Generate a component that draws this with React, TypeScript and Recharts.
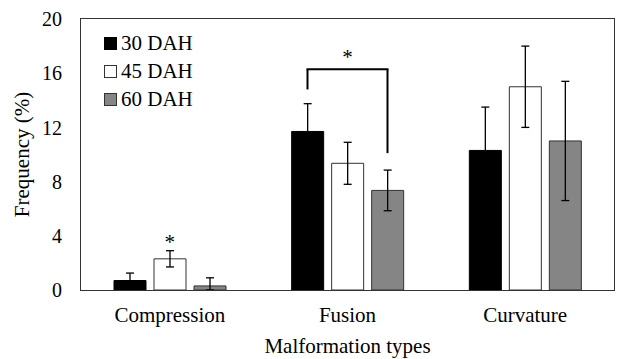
import React from "react";
import {
  BarChart,
  Bar,
  XAxis,
  YAxis,
  ErrorBar,
  Legend,
  ReferenceLine,
  ReferenceDot,
} from "recharts";

const categories = ["Compression", "Fusion", "Curvature"];
const seriesNames = ["30 DAH", "45 DAH", "60 DAH"];
const mean30 = [0.7, 11.7, 10.3];
const err30 = [0.55, 2.05, 3.2];
const mean45 = [2.3, 9.35, 15.0];
const err45 = [0.6, 1.55, 3.0];
const mean60 = [0.3, 7.35, 11.0];
const err60 = [[0.3, 0.6], 1.5, 4.4];
const yTicks = [0, 4, 8, 12, 16, 20];
const yDomain = [0, 20];

// significance marks
const starOver = [
  { category: "Compression", y: 3.6 },
  { category: "Fusion", y: 17.2 },
];
const bracket = { category: "Fusion", top: 16.3, leftEnd: 14.8, rightEnd: 10.1 };

const data = categories.map((c, i) => ({
  name: c,
  d30: mean30[i],
  e30: err30[i],
  d45: mean45[i],
  e45: err45[i],
  d60: mean60[i],
  e60: err60[i],
}));

const fills = ["#000000", "#ffffff", "#858585"];
const strokes = ["#000000", "#333333", "#333333"];

const W = 620;
const H = 359;
const margin = { top: 19, right: 6, bottom: 0, left: 0 };
const Y_AXIS_W = 81;
const X_AXIS_H = 69;
const BAR_SIZE = 32;
const BAR_GAP = 8;
const SHIFT = BAR_SIZE + BAR_GAP; // centre of first / last bar from group centre
const FONT = "Liberation Serif";

// plot box
const PLOT = {
  left: margin.left + Y_AXIS_W,
  top: margin.top,
  width: W - margin.left - margin.right - Y_AXIS_W,
  height: H - margin.top - margin.bottom - X_AXIS_H,
};

const LegendBox = () => (
  <div style={{ fontFamily: FONT, fontSize: 21, color: "#000" }}>
    {seriesNames.map((s, i) => (
      <div key={s} style={{ display: "flex", alignItems: "center", height: 28 }}>
        <span
          style={{
            display: "inline-block",
            width: 11,
            height: 11,
            background: fills[i],
            border: `1px solid ${strokes[i]}`,
            marginRight: 4,
          }}
        />
        <span>{s}</span>
      </div>
    ))}
  </div>
);

const YTitle = (props: any) => {
  const vb = props.viewBox || { x: 0, y: margin.top, height: PLOT.height };
  const cx = vb.x + 22;
  const cy = vb.y + vb.height / 2;
  return (
    <text
      x={cx}
      y={cy}
      transform={`rotate(-90 ${cx} ${cy})`}
      textAnchor="middle"
      dominantBaseline="central"
      fontFamily={FONT}
      fontSize={21}
      fill="#000"
    >
      Frequency (%)
    </text>
  );
};

// draws a reference segment moved sideways onto a bar inside the group
const shifted = (dxa: number, dxb: number) => (p: any) =>
  (
    <line
      x1={p.x1 + dxa}
      y1={p.y1}
      x2={p.x2 + dxb}
      y2={p.y2}
      stroke="#000"
      strokeWidth={2}
    />
  );

export default function App() {
  const c = bracket.category;
  return (
    <div style={{ position: "absolute", left: 0, top: 0, width: W, height: H, background: "#fff" }}>
      <BarChart
        width={W}
        height={H}
        data={data}
        margin={margin}
        barSize={BAR_SIZE}
        barGap={BAR_GAP}
        style={{ fontFamily: FONT }}
      >
        <XAxis
          dataKey="name"
          height={X_AXIS_H}
          axisLine={false}
          tickLine={false}
          tickSize={0}
          tickMargin={17}
          tick={{ fill: "#000", fontSize: 21, fontFamily: FONT }}
          label={{
            value: "Malformation types",
            position: "insideBottom",
            offset: 6,
            fill: "#000",
            fontSize: 21,
            fontFamily: FONT,
          }}
        />
        <YAxis
          width={Y_AXIS_W}
          domain={yDomain}
          ticks={yTicks}
          axisLine={false}
          tickLine={false}
          tickSize={0}
          tickMargin={19}
          tick={{ fill: "#000", fontSize: 20, fontFamily: FONT }}
          label={{ content: <YTitle /> }}
        />
        <Legend
          layout="vertical"
          align="center"
          verticalAlign="middle"
          content={<LegendBox />}
          wrapperStyle={{ left: 104, top: 29, width: "auto" }}
        />
        {["d30", "d45", "d60"].map((k, i) => (
          <Bar
            key={k}
            dataKey={k}
            name={seriesNames[i]}
            fill={fills[i]}
            stroke={strokes[i]}
            strokeWidth={1}
            isAnimationActive={false}
          >
            <ErrorBar
              dataKey={k.replace("d", "e")}
              width={4}
              stroke="#000"
              strokeWidth={1.3}
              isAnimationActive={false}
            />
          </Bar>
        ))}
        {/* significance bracket */}
        <ReferenceLine
          segment={[
            { x: c, y: bracket.leftEnd },
            { x: c, y: bracket.top },
          ]}
          shape={shifted(-SHIFT, -SHIFT)}
        />
        <ReferenceLine
          segment={[
            { x: c, y: bracket.top },
            { x: c, y: bracket.top },
          ]}
          shape={shifted(-SHIFT - 1, SHIFT + 1)}
        />
        <ReferenceLine
          segment={[
            { x: c, y: bracket.top },
            { x: c, y: bracket.rightEnd },
          ]}
          shape={shifted(SHIFT, SHIFT)}
        />
        {starOver.map((s) => (
          <ReferenceDot
            key={s.category}
            x={s.category}
            y={s.y}
            r={0}
            fill="none"
            stroke="none"
            label={{ value: "*", position: "center", fill: "#000", fontSize: 21, fontFamily: FONT }}
          />
        ))}
      </BarChart>
      {/* plot frame */}
      <div
        style={{
          position: "absolute",
          left: PLOT.left - 0.75,
          top: PLOT.top - 0.75,
          width: PLOT.width + 1.5,
          height: PLOT.height + 1.5,
          border: "1.5px solid #333333",
          boxSizing: "border-box",
          pointerEvents: "none",
        }}
      />
    </div>
  );
}
